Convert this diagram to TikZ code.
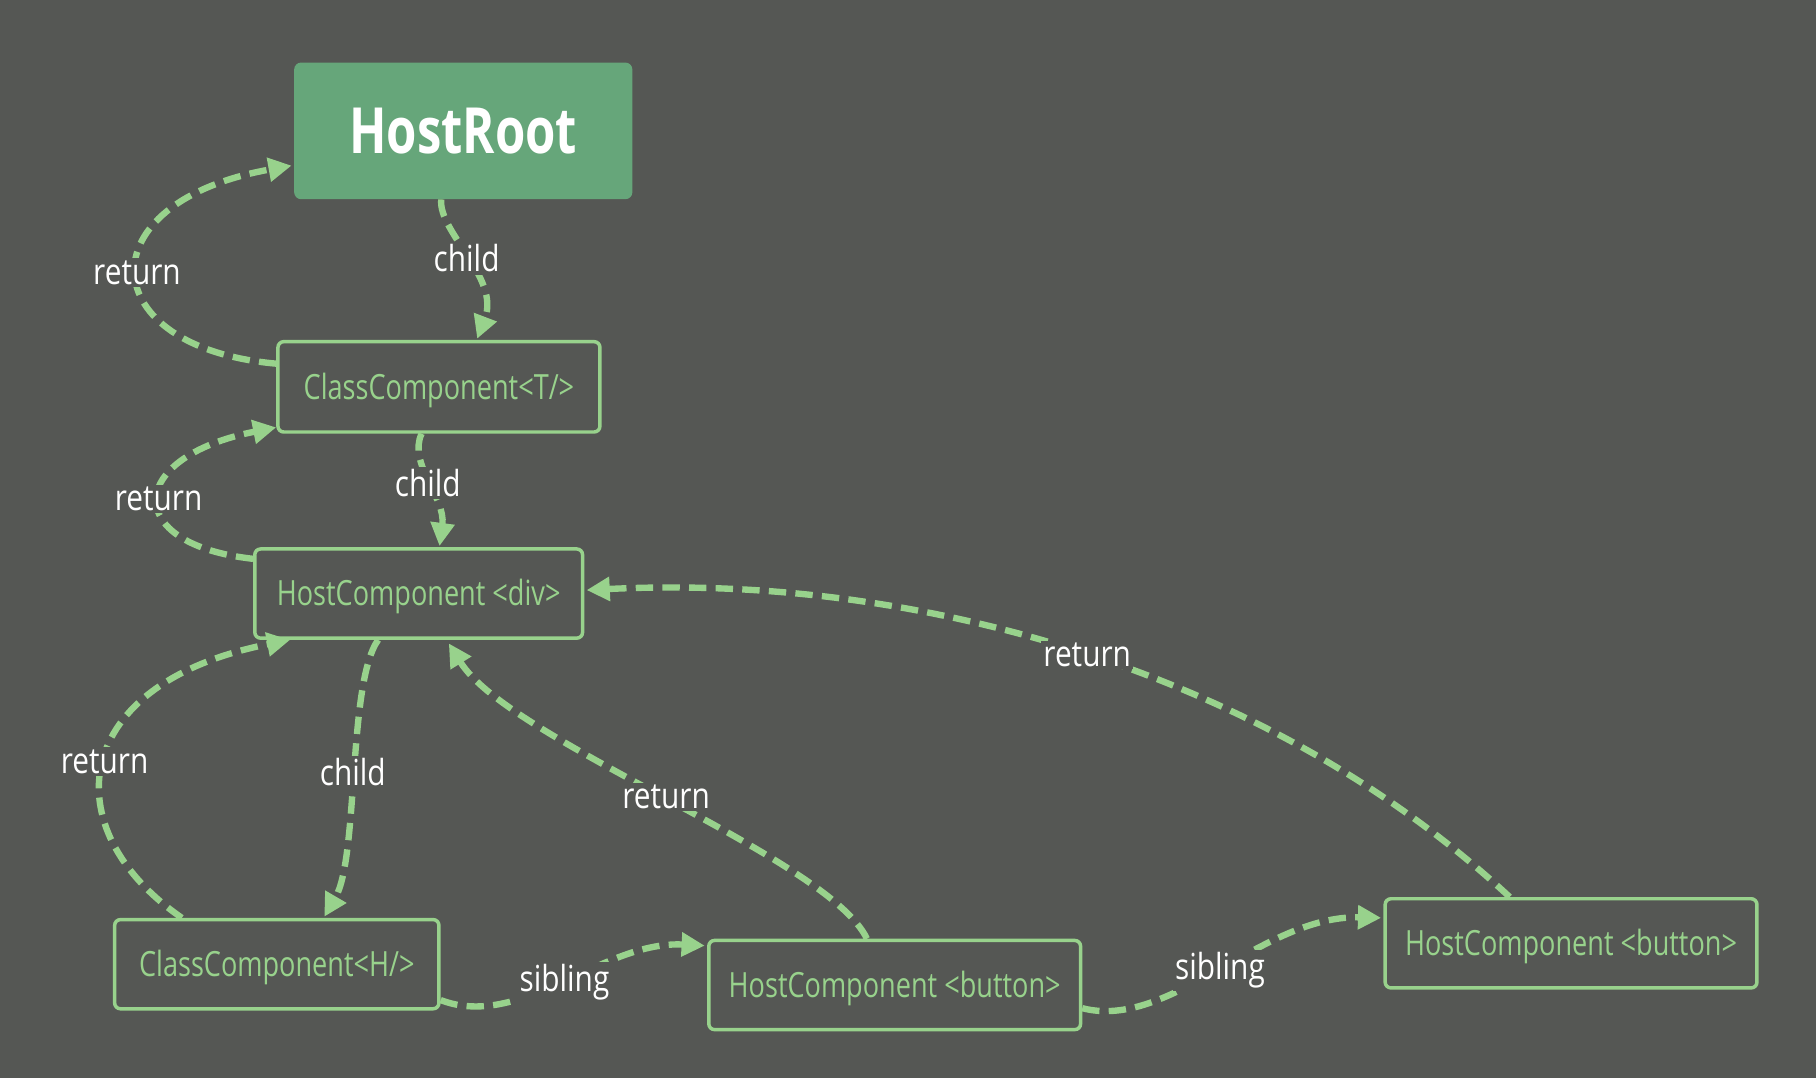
\documentclass[tikz,border=0pt]{standalone}
\usepackage{fontspec}
\setmainfont[FakeStretch=0.83]{Open Sans}
\newfontfamily\boxfont[FakeStretch=0.78]{Open Sans}
\newfontfamily\rootfont[FakeStretch=0.77]{Open Sans}
\usetikzlibrary{arrows.meta,calc}
\definecolor{bgc}{HTML}{555754}
\definecolor{rootc}{HTML}{66A67A}
\definecolor{lgreen}{HTML}{98D28C}
\tikzset{
  fibox/.style={draw=lgreen, line width=3pt, rounded corners=5pt, text=lgreen,
    font=\boxfont\fontsize{30}{30}\selectfont, inner sep=0pt,
    text height=21.4pt, text depth=0pt},
  rootbox/.style={fill=rootc, rounded corners=6pt, text=white,
    font=\rootfont\bfseries\fontsize{55}{55}\selectfont, inner sep=0pt,
    text height=39pt, text depth=0pt},
  link/.style={draw=lgreen, line width=5.5pt, dash pattern=on 15pt off 8pt,
    -{Triangle[length=20pt,width=20pt]}},
  lbl/.style={fill=bgc, text=white, font=\fontsize{31}{31}\selectfont, inner sep=2pt}
}
\begin{document}
\begin{tikzpicture}[x=1pt,y=-1pt]
\fill[bgc] (0,0) rectangle (1568,931);
\useasboundingbox (0,0) rectangle (1568,931);

\node[rootbox, minimum width=292pt, minimum height=118pt] (root) at (400,113) {HostRoot};
\node[fibox, minimum width=278pt, minimum height=78pt] (ct) at (379,334) {ClassComponent<T/>};
\node[fibox, minimum width=283pt, minimum height=77pt] (div) at (361.5,512.5) {HostComponent <div>};
\node[fibox, minimum width=280pt, minimum height=77pt] (ch) at (239,832.5) {ClassComponent<H/>};
\node[fibox, minimum width=321pt, minimum height=77pt] (b1) at (772.5,850.5) {HostComponent <button>};
\node[fibox, minimum width=321pt, minimum height=77pt] (b2) at (1356.5,814.5) {HostComponent <button>};

% return: ClassComponent<T/> -> HostRoot
\draw[link] ($(ct.west)+(0,-20)$) .. controls (80,300) and (72,175) .. ($(root.west)+(-2,30)$)
  node[lbl, pos=0.5] {return};
% child: HostRoot -> ClassComponent<T/>
\draw[link] ($(root.south)+(-19,0)$) .. controls (378,200) and (432,240) .. ($(ct.north)+(33,-1)$)
  node[lbl, pos=0.5] {child};
% return: div -> ClassComponent<T/>
\draw[link] ($(div.west)+(0,-30)$) .. controls (105,470) and (108,395) .. ($(ct.west)+(0,35)$)
  node[lbl, pos=0.5] {return};
% child: ClassComponent<T/> -> div
\draw[link] ($(ct.south)+(-15,0)$) .. controls (352,400) and (385,430) .. ($(div.north)+(18,-1)$)
  node[lbl, pos=0.5] {child};
% return: ClassComponent<H/> -> div
\draw[link] ($(ch.north)+(-82,0)$) .. controls (45,715) and (60,590) .. ($(div.south west)+(32,0)$)
  node[lbl, pos=0.5] {return};
% child: div -> ClassComponent<H/>
\draw[link] ($(div.south)+(-35,0)$) .. controls (300,590) and (310,740) .. ($(ch.north)+(41,-1)$)
  node[lbl, pos=0.5] {child};
% return: button1 -> div
\draw[link] ($(b1.north)+(-24,0)$) .. controls (715,740) and (440,640) .. ($(div.south)+(26,3)$)
  node[lbl, pos=0.5] {return};
% return: button2 -> div
\draw[link] ($(b2.north)+(-53,0)$) .. controls (1100,585) and (800,495) .. ($(div.east)+(2,-3)$)
  node[lbl, pos=0.5] {return};
% sibling: ClassComponent<H/> -> button1
\draw[link] ($(ch.east)+(0,31)$) .. controls (450,890) and (520,812) .. ($(b1.west)+(-2,-34)$)
  node[lbl, pos=0.5] {sibling};
% sibling: button1 -> button2
\draw[link] ($(b1.east)+(0,20)$) .. controls (1010,890) and (1090,790) .. ($(b2.west)+(-2,-22)$)
  node[lbl, pos=0.5] {sibling};
\end{tikzpicture}
\end{document}
